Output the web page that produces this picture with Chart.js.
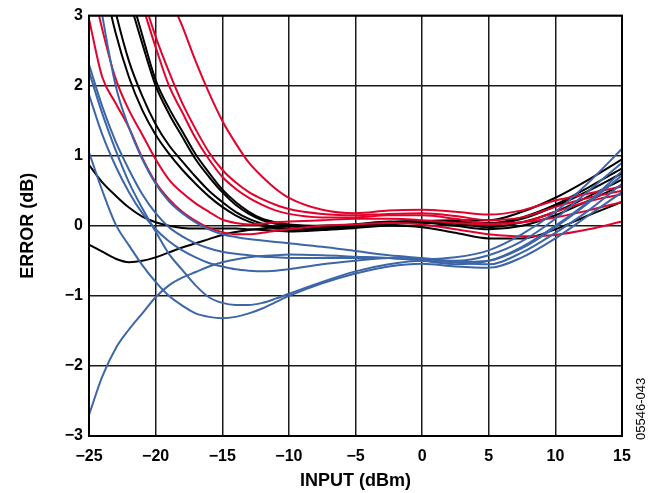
<!DOCTYPE html>
<html><head><meta charset="utf-8">
<script src="https://cdn.jsdelivr.net/npm/chart.js@4/dist/chart.umd.min.js"></script>
<style>html,body{margin:0;padding:0;background:#fff}canvas{display:block}</style>
</head><body>
<canvas id="c" width="654" height="493"></canvas>
<script>
// x positions (INPUT, dBm) shared by every curve
const inputDbm = [-25,-24,-23,-22,-21,-20,-19,-18,-17,-16,-15,-14,-13,-12,-11,-10,-7.5,-5,-2.5,0,2.5,5,7.5,10,12.5,15];

// red curves (ERROR, dB)
const red1 = [2.95,2.12,1.75,1.4,0.97,0.62,0.38,0.2,0.07,-0.03,-0.09,-0.12,-0.12,-0.1,-0.07,-0.05,0.0,0.02,0.04,0.02,-0.05,-0.12,-0.15,-0.13,-0.05,0.06];
const red2 = [3.65,2.8,2.1,1.65,1.3,0.95,0.66,0.47,0.32,0.2,0.09,0.04,0.02,0.03,0.05,0.06,0.08,0.1,0.1,0.08,0.04,0.02,0.05,0.12,0.22,0.34];
const red3 = [6.0,5.2,4.4,3.7,3.15,2.55,2.0,1.62,1.25,0.95,0.7,0.53,0.4,0.3,0.22,0.17,0.12,0.12,0.15,0.15,0.1,0.03,0.05,0.2,0.35,0.45];
const red4 = [6.5,5.6,4.8,4.0,3.3,2.7,2.2,1.75,1.38,1.05,0.8,0.62,0.48,0.38,0.3,0.24,0.17,0.15,0.17,0.18,0.14,0.08,0.12,0.27,0.4,0.5];
const red5 = [8.5,7.5,6.5,5.5,4.6,3.9,3.3,2.85,2.35,1.9,1.5,1.18,0.9,0.7,0.53,0.4,0.23,0.18,0.22,0.23,0.2,0.16,0.22,0.36,0.46,0.56];

// black curves
const black1 = [4.6,3.6,2.75,2.12,1.65,1.3,1.03,0.8,0.6,0.42,0.27,0.15,0.06,0.0,-0.04,-0.06,-0.05,-0.02,0.02,0.04,0.03,-0.02,0.05,0.2,0.42,0.66];
const black2 = [5.0,3.9,3.05,2.35,1.85,1.45,1.15,0.92,0.7,0.5,0.34,0.2,0.1,0.03,-0.02,-0.04,-0.02,0.0,0.04,0.06,0.06,0.04,0.12,0.3,0.55,0.82];
const black3 = [6.2,5.0,4.0,3.25,2.6,2.0,1.6,1.27,0.95,0.7,0.48,0.3,0.17,0.08,0.03,0.0,-0.03,0.0,0.05,0.07,0.08,0.08,0.2,0.4,0.66,0.95];
const black4 = [6.4,5.2,4.2,3.4,2.72,2.08,1.68,1.35,1.02,0.76,0.52,0.34,0.2,0.1,0.05,0.02,0.0,0.02,0.06,0.05,0.0,-0.05,0.0,0.15,0.36,0.58];
const black5 = [0.87,0.62,0.43,0.26,0.13,0.05,0.0,-0.03,-0.04,-0.04,-0.04,-0.04,-0.05,-0.06,-0.07,-0.08,-0.06,-0.03,0.0,-0.02,-0.1,-0.18,-0.18,-0.05,0.15,0.34];
const black6 = [-0.27,-0.37,-0.47,-0.52,-0.5,-0.45,-0.38,-0.31,-0.25,-0.19,-0.13,-0.09,-0.06,-0.04,-0.02,-0.01,0.0,0.02,0.05,0.06,0.04,0.02,0.1,0.28,0.5,0.75];

// blue curves
const blue1 = [4.2,3.0,2.0,1.4,0.95,0.6,0.35,0.18,0.05,-0.05,-0.12,-0.16,-0.19,-0.21,-0.23,-0.25,-0.3,-0.36,-0.42,-0.46,-0.5,-0.42,-0.22,0.1,0.5,0.9];
const blue2 = [2.2,1.6,1.08,0.62,0.25,-0.08,-0.4,-0.63,-0.85,-1.02,-1.1,-1.13,-1.13,-1.1,-1.04,-0.97,-0.8,-0.65,-0.55,-0.5,-0.52,-0.5,-0.32,-0.02,0.33,0.72];
const blue3 = [1.87,1.3,0.85,0.48,0.18,-0.05,-0.22,-0.35,-0.45,-0.53,-0.58,-0.62,-0.64,-0.65,-0.64,-0.62,-0.55,-0.5,-0.46,-0.47,-0.52,-0.55,-0.38,-0.1,0.22,0.6];
const blue4 = [1.05,0.5,0.02,-0.28,-0.56,-0.8,-1.0,-1.14,-1.25,-1.3,-1.32,-1.3,-1.25,-1.18,-1.09,-1.0,-0.82,-0.68,-0.58,-0.54,-0.58,-0.6,-0.45,-0.18,0.15,0.48];
const blue5 = [-2.7,-2.15,-1.75,-1.48,-1.25,-1.02,-0.85,-0.74,-0.66,-0.58,-0.52,-0.48,-0.45,-0.43,-0.42,-0.41,-0.42,-0.44,-0.46,-0.5,-0.55,-0.5,-0.3,0.0,0.35,0.78];
const blue6 = [2.3,1.7,1.2,0.8,0.45,0.18,-0.02,-0.15,-0.25,-0.32,-0.37,-0.4,-0.42,-0.44,-0.45,-0.46,-0.46,-0.46,-0.46,-0.48,-0.45,-0.35,-0.12,0.2,0.62,1.1];

const xTicks = [-25,-20,-15,-10,-5,0,5,10,15];
const yTicks = [-3,-2,-1,0,1,2,3];

const RED = '#E3022C', BLACK = '#000000', BLUE = '#3D66A8';
const groups = [
  [BLUE, [blue1, blue2, blue3, blue4, blue5, blue6]],
  [RED, [red1, red2, red3, red4, red5]],
  [BLACK, [black1, black2, black3, black4, black5, black6]]
];
const datasets = [];
groups.forEach(([color, list]) => list.forEach(vals => datasets.push({
  data: vals.map((v, i) => ({x: inputDbm[i], y: v})),
  borderColor: color, borderWidth: 2, pointRadius: 0,
  cubicInterpolationMode: 'monotone', fill: false
})));

const FONT = '"Liberation Sans", Arial, Helvetica, sans-serif';
const minus = v => String(v).replace('-', '\u2212');

const frame = {
  id: 'frame',
  afterDraw(chart) {
    const {ctx, chartArea: a} = chart;
    ctx.save();
    ctx.strokeStyle = '#000'; ctx.lineWidth = 2;
    ctx.strokeRect(a.left, a.top, a.right - a.left, a.bottom - a.top);
    ctx.font = '13px ' + FONT;
    ctx.fillStyle = '#000';
    ctx.translate(641, 440);
    ctx.rotate(-Math.PI / 2);
    ctx.textAlign = 'left'; ctx.textBaseline = 'middle';
    ctx.fillText('05546-043', 0, 0);
    ctx.restore();
  }
};

new Chart(document.getElementById('c'), {
  type: 'line',
  data: {datasets},
  plugins: [frame],
  options: {
    responsive: false, devicePixelRatio: 1, animation: false,
    layout: {padding: {left: 0, top: 12, right: 32, bottom: 0}},
    plugins: {legend: {display: false}, tooltip: {enabled: false}},
    scales: {
      x: {
        type: 'linear', min: -25, max: 15,
        afterBuildTicks: s => { s.ticks = xTicks.map(v => ({value: v})); },
        afterFit: s => { s.height = 57; },
        ticks: {callback: minus, color: '#000', padding: 11, maxRotation: 0, font: {family: FONT, size: 16, weight: 'bold'}},
        grid: {color: '#1a1a1a', lineWidth: 1.5, drawTicks: false},
        border: {color: '#000', width: 2},
        title: {display: true, text: 'INPUT (dBm)', color: '#000', padding: {top: 0, bottom: 1}, font: {family: FONT, size: 18, weight: 'bold'}}
      },
      y: {
        type: 'linear', min: -3, max: 3,
        afterBuildTicks: s => { s.ticks = yTicks.map(v => ({value: v})); },
        afterFit: s => { s.width = 89; },
        ticks: {callback: minus, color: '#000', padding: 6, font: {family: FONT, size: 16, weight: 'bold'}},
        grid: {color: '#1a1a1a', lineWidth: 1.5, drawTicks: false},
        border: {color: '#000', width: 2},
        title: {display: true, text: 'ERROR (dB)', color: '#000', padding: {top: 17, bottom: 0}, font: {family: FONT, size: 18, weight: 'bold'}}
      }
    }
  }
});
</script>
</body></html>
